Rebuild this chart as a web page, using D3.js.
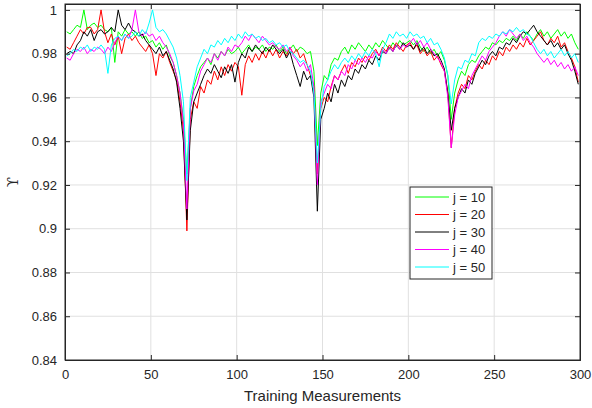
<!DOCTYPE html>
<html>
<head>
<meta charset="utf-8">
<script src="https://cdn.jsdelivr.net/npm/d3@7"></script>
<style>
  body { margin: 0; background: #fff; }
  text { font-family: "Liberation Sans", Arial, sans-serif; fill: #262626; }
</style>
</head>
<body>
<div id="chart"></div>
<script>
const xs = d3.range(1, 300, 2);

const labels = ["j = 10", "j = 20", "j = 30", "j = 40", "j = 50"];
const colors = ["#00ff00", "#ff0000", "#000000", "#ff00ff", "#00ffff"];

const j10 = [
  0.990, 0.989, 0.991, 0.993, 0.992, 1.000, 0.991, 0.993, 0.994, 0.992,
  0.993, 0.991, 0.990, 0.992, 0.976, 0.990, 0.988, 0.991, 0.989, 0.990,
  0.988, 0.990, 0.987, 0.988, 0.985, 0.986, 0.983, 0.985, 0.982, 0.984,
  0.979, 0.976, 0.970, 0.962, 0.950, 0.925, 0.955, 0.965, 0.970, 0.974,
  0.976, 0.978, 0.975, 0.980, 0.978, 0.981, 0.979, 0.982, 0.980, 0.981,
  0.983, 0.980, 0.982, 0.984, 0.981, 0.983, 0.982, 0.984, 0.981, 0.983,
  0.982, 0.984, 0.981, 0.983, 0.980, 0.982, 0.984, 0.981, 0.983, 0.982,
  0.980, 0.981, 0.972, 0.938, 0.962, 0.970, 0.968, 0.975, 0.978, 0.977,
  0.981, 0.983, 0.980, 0.984, 0.982, 0.985, 0.983, 0.981, 0.984, 0.982,
  0.985, 0.983, 0.986, 0.984, 0.982, 0.985, 0.983, 0.986, 0.984, 0.985,
  0.986, 0.984, 0.986, 0.983, 0.981, 0.983, 0.980, 0.982, 0.979, 0.981,
  0.977, 0.970, 0.950, 0.962, 0.968, 0.972, 0.970, 0.975, 0.977, 0.976,
  0.979, 0.981, 0.983, 0.982, 0.985, 0.984, 0.986, 0.985, 0.987, 0.986,
  0.988, 0.986, 0.989, 0.987, 0.990, 0.988, 0.986, 0.989, 0.991, 0.988,
  0.990, 0.987, 0.989, 0.991, 0.988, 0.990, 0.987, 0.989, 0.985, 0.982
];
const j20 = [
  0.983, 0.982, 0.985, 0.988, 0.991, 0.989, 0.992, 0.992, 0.989, 0.991,
  1.000, 0.990, 0.985, 0.989, 0.984, 0.988, 0.980, 0.987, 0.989, 0.986,
  0.988, 0.985, 0.983, 0.981, 0.984, 0.980, 0.970, 0.980, 0.978, 0.981,
  0.976, 0.972, 0.968, 0.958, 0.945, 0.899, 0.950, 0.958, 0.955, 0.965,
  0.962, 0.968, 0.966, 0.972, 0.968, 0.974, 0.970, 0.975, 0.972, 0.976,
  0.974, 0.961, 0.975, 0.979, 0.976, 0.980, 0.977, 0.981, 0.978, 0.982,
  0.979, 0.982, 0.978, 0.981, 0.979, 0.983, 0.980, 0.982, 0.978, 0.980,
  0.975, 0.970, 0.965, 0.925, 0.955, 0.960, 0.958, 0.965, 0.970, 0.968,
  0.972, 0.975, 0.971, 0.976, 0.974, 0.978, 0.976, 0.979, 0.977, 0.980,
  0.982, 0.979, 0.983, 0.981, 0.984, 0.982, 0.985, 0.983, 0.981, 0.984,
  0.985, 0.982, 0.984, 0.980, 0.982, 0.979, 0.981, 0.977, 0.979, 0.975,
  0.972, 0.962, 0.937, 0.955, 0.962, 0.966, 0.964, 0.970, 0.968, 0.972,
  0.975, 0.973, 0.977, 0.975, 0.979, 0.977, 0.981, 0.979, 0.983, 0.981,
  0.984, 0.982, 0.985, 0.983, 0.987, 0.984, 0.986, 0.988, 0.990, 0.986,
  0.984, 0.987, 0.985, 0.988, 0.983, 0.985, 0.981, 0.978, 0.974, 0.967
];
const j30 = [
  0.980, 0.981, 0.980, 0.984, 0.986, 0.990, 0.988, 0.991, 0.986, 0.990,
  0.991, 0.989, 0.990, 0.992, 0.990, 1.000, 0.993, 0.991, 0.994, 0.991,
  0.990, 0.988, 0.989, 0.986, 0.984, 0.982, 0.980, 0.983, 0.979, 0.981,
  0.977, 0.973, 0.967, 0.955, 0.940, 0.904, 0.945, 0.958, 0.962, 0.966,
  0.970, 0.973, 0.971, 0.975, 0.972, 0.969, 0.974, 0.971, 0.975, 0.967,
  0.976, 0.980, 0.978, 0.983, 0.981, 0.984, 0.982, 0.980, 0.983, 0.981,
  0.984, 0.982, 0.980, 0.982, 0.978, 0.981, 0.975, 0.970, 0.965, 0.972,
  0.968, 0.970, 0.960, 0.908, 0.950, 0.955, 0.962, 0.958, 0.966, 0.962,
  0.968, 0.965, 0.970, 0.968, 0.973, 0.971, 0.975, 0.973, 0.977, 0.975,
  0.979, 0.977, 0.981, 0.980, 0.983, 0.981, 0.984, 0.982, 0.985, 0.983,
  0.984, 0.982, 0.985, 0.981, 0.983, 0.980, 0.982, 0.979, 0.980, 0.977,
  0.973, 0.962, 0.945, 0.955, 0.960, 0.964, 0.962, 0.968, 0.966, 0.971,
  0.974, 0.977, 0.975, 0.979, 0.981, 0.979, 0.983, 0.982, 0.985, 0.984,
  0.987, 0.985, 0.988, 0.990, 0.989, 0.991, 0.993, 0.990, 0.988, 0.986,
  0.984, 0.986, 0.983, 0.985, 0.982, 0.984, 0.980, 0.977, 0.972, 0.966
];
const j40 = [
  0.978, 0.977, 0.980, 0.982, 0.981, 0.983, 0.980, 0.982, 0.981, 0.983,
  0.982, 0.980, 0.983, 0.981, 0.985, 0.988, 0.986, 0.989, 0.987, 0.991,
  1.000, 0.990, 0.988, 0.990, 0.988, 0.989, 0.986, 0.988, 0.985, 0.983,
  0.980, 0.976, 0.970, 0.962, 0.948, 0.909, 0.955, 0.963, 0.966, 0.972,
  0.975, 0.978, 0.976, 0.980, 0.977, 0.981, 0.979, 0.983, 0.981, 0.984,
  0.983, 0.985, 0.988, 0.986, 0.989, 0.987, 0.985, 0.988, 0.986, 0.984,
  0.985, 0.983, 0.982, 0.984, 0.981, 0.983, 0.979, 0.977, 0.974, 0.976,
  0.972, 0.975, 0.965, 0.920, 0.958, 0.962, 0.966, 0.964, 0.970, 0.968,
  0.972, 0.970, 0.975, 0.973, 0.977, 0.975, 0.978, 0.976, 0.979, 0.978,
  0.981, 0.979, 0.982, 0.980, 0.983, 0.981, 0.984, 0.982, 0.984, 0.983,
  0.985, 0.987, 0.984, 0.986, 0.983, 0.985, 0.982, 0.980, 0.978, 0.976,
  0.972, 0.960, 0.937, 0.952, 0.960, 0.963, 0.966, 0.964, 0.970, 0.973,
  0.976, 0.979, 0.977, 0.981, 0.983, 0.985, 0.988, 0.990, 0.988, 0.991,
  0.989, 0.987, 0.989, 0.986, 0.988, 0.985, 0.983, 0.980, 0.978, 0.976,
  0.978, 0.975, 0.977, 0.974, 0.976, 0.973, 0.975, 0.972, 0.974, 0.970
];
const j50 = [
  0.979, 0.980, 0.982, 0.981, 0.983, 0.982, 0.984, 0.981, 0.983, 0.982,
  0.984, 0.982, 0.971, 0.984, 0.987, 0.988, 0.986, 0.989, 0.987, 0.988,
  0.990, 0.988, 0.991, 0.989, 0.994, 1.000, 0.992, 0.990, 0.991, 0.989,
  0.986, 0.983, 0.978, 0.970, 0.958, 0.922, 0.960, 0.967, 0.974, 0.978,
  0.982, 0.980, 0.984, 0.983, 0.986, 0.984, 0.987, 0.985, 0.988, 0.986,
  0.989, 0.987, 0.990, 0.988, 0.989, 0.987, 0.988, 0.986, 0.987, 0.985,
  0.986, 0.984, 0.985, 0.983, 0.984, 0.981, 0.980, 0.978, 0.976, 0.977,
  0.975, 0.972, 0.962, 0.930, 0.955, 0.965, 0.968, 0.972, 0.975, 0.973,
  0.976, 0.978, 0.976, 0.979, 0.977, 0.980, 0.978, 0.981, 0.979, 0.982,
  0.980, 0.974, 0.982, 0.985, 0.989, 0.987, 0.990, 0.988, 0.989, 0.987,
  0.990, 0.988, 0.989, 0.987, 0.988, 0.985, 0.987, 0.984, 0.985, 0.982,
  0.978, 0.970, 0.957, 0.968, 0.974, 0.973, 0.977, 0.976, 0.980, 0.979,
  0.985, 0.987, 0.986, 0.988, 0.987, 0.989, 0.988, 0.990, 0.989, 0.991,
  0.990, 0.992, 0.990, 0.991, 0.989, 0.988, 0.985, 0.982, 0.980, 0.982,
  0.979, 0.981, 0.978, 0.980, 0.982, 0.979, 0.981, 0.978, 0.980, 0.976
];
const series = [j10, j20, j30, j40, j50];

const xTicks = [0, 50, 100, 150, 200, 250, 300];
const yTicks = [0.84, 0.86, 0.88, 0.9, 0.92, 0.94, 0.96, 0.98, 1];

const margin = {top: 4, right: 12, bottom: 48, left: 65},
      width = 592 - margin.left - margin.right,
      height = 408 - margin.top - margin.bottom;

const svg = d3.select("#chart")
    .append("svg")
    .attr("width", 592)
    .attr("height", 408)
    .append("g")
    .attr("transform", `translate(${margin.left}, ${margin.top})`);

const x = d3.scaleLinear().domain([0, 300]).range([0, width]);
const y = d3.scaleLinear().domain([0.84, 1.0027]).range([height, 0]);

// grid
svg.append("g").selectAll("line.gx")
  .data(xTicks.slice(1, -1))
  .join("line")
    .attr("x1", d => x(d)).attr("x2", d => x(d))
    .attr("y1", 0).attr("y2", height)
    .attr("stroke", "#e0e0e0");
svg.append("g").selectAll("line.gy")
  .data(yTicks.slice(1))
  .join("line")
    .attr("x1", 0).attr("x2", width)
    .attr("y1", d => y(d)).attr("y2", d => y(d))
    .attr("stroke", "#e0e0e0");

// lines
const line = d3.line()
  .x((d, i) => x(xs[i]))
  .y(d => y(d));

series.forEach((s, k) => {
  svg.append("path")
    .datum(s)
    .attr("fill", "none")
    .attr("stroke", colors[k])
    .attr("stroke-width", 1)
    .attr("d", line);
});

// axes, MATLAB style ticks pointing inside
const axColor = "#262626";
const xAxis = svg.append("g")
  .attr("transform", `translate(0, ${height})`)
  .call(d3.axisBottom(x).tickValues(xTicks).tickSize(-5).tickPadding(10).tickFormat(d3.format("d")));
const xTop = svg.append("g")
  .call(d3.axisTop(x).tickValues(xTicks).tickSize(-5).tickFormat(""));
const yAxis = svg.append("g")
  .call(d3.axisLeft(y).tickValues(yTicks).tickSize(-5).tickPadding(8).tickFormat(d => d3.format("")(+d.toFixed(2))));
const yRight = svg.append("g")
  .attr("transform", `translate(${width}, 0)`)
  .call(d3.axisRight(y).tickValues(yTicks).tickSize(-5).tickFormat(""));

[xAxis, xTop, yAxis, yRight].forEach(g => {
  g.select(".domain").attr("stroke", axColor);
  g.selectAll(".tick line").attr("stroke", axColor);
  g.selectAll("text").attr("font-size", 13).attr("fill", axColor)
    .style("font-family", "'Liberation Sans', Arial, sans-serif");
});
// the outer box
svg.append("rect")
  .attr("width", width).attr("height", height)
  .attr("fill", "none").attr("stroke", axColor);

svg.append("text")
  .attr("x", width / 2)
  .attr("y", height + 41)
  .attr("text-anchor", "middle")
  .attr("font-size", 15)
  .text("Training Measurements");

svg.append("text")
  .attr("transform", `translate(${-47}, ${height / 2}) rotate(-90)`)
  .attr("text-anchor", "middle")
  .attr("font-size", 15)
  .style("font-family", "'DejaVu Serif', serif")
  .text("ϒ");

// legend
const lg = svg.append("g").attr("transform", `translate(${410 - margin.left}, ${187 - margin.top})`);
lg.append("rect")
  .attr("width", 82).attr("height", 92)
  .attr("fill", "#fff").attr("stroke", axColor);
labels.forEach((l, k) => {
  const yy = 10 + k * 17.5;
  lg.append("line")
    .attr("x1", 5).attr("x2", 39)
    .attr("y1", yy).attr("y2", yy)
    .attr("stroke", colors[k]);
  lg.append("text")
    .attr("x", 43).attr("y", yy + 4.5)
    .attr("font-size", 13)
    .text(l);
});
</script>
</body>
</html>
